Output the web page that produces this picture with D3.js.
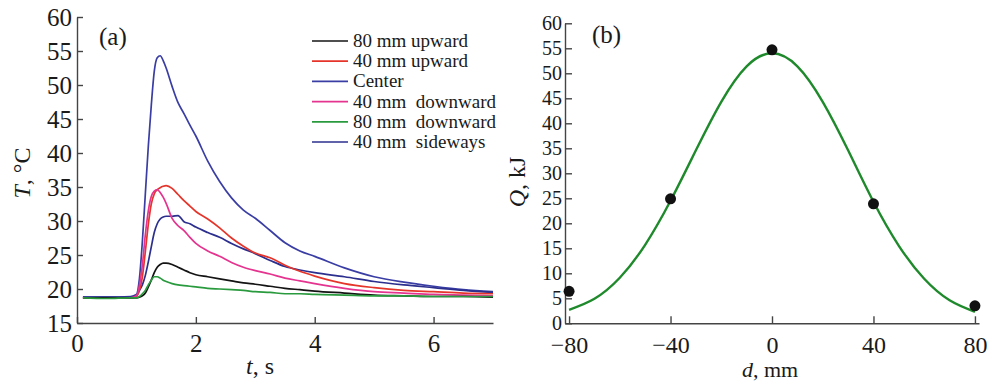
<!DOCTYPE html>
<html>
<head>
<meta charset="UTF-8">
<title>T(t) and Q(d)</title>
<style>
  body { margin: 0; background: #fff; }
  svg { display: block; }
</style>
</head>
<body>
<script src="https://d3js.org/d3.v7.min.js"></script>
<script>
// ---- (a) temperature vs time ----
var times = [0.1, 0.5, 0.9, 1.0, 1.05, 1.1, 1.15, 1.2, 1.25, 1.3, 1.35, 1.4, 1.45, 1.5, 1.6, 1.7, 1.8, 1.9, 2.0,
  2.2, 2.4, 2.6, 2.8, 3.0, 3.25, 3.5, 3.75, 4.0, 4.5, 5.0, 5.5, 6.0, 6.5, 7.0]

var upward80 = [18.7, 18.7, 18.7, 18.7, 18.8, 19.0, 19.4, 20.3, 21.3, 22.4, 23.2, 23.6, 23.8, 23.8, 23.6, 23.2, 22.8, 22.4, 22.1,
  21.8, 21.5, 21.2, 20.9, 20.7, 20.4, 20.1, 19.9, 19.7, 19.4, 19.1, 19.0, 18.9, 18.9, 18.8]
var upward40 = [18.7, 18.7, 18.7, 18.9, 19.8, 21.8, 25.5, 29.5, 32.5, 34.0, 34.6, 34.9, 35.1, 35.2, 34.8, 33.9, 33.0, 32.2, 31.4,
  30.3, 29.0, 27.5, 26.3, 25.3, 24.6, 23.5, 22.6, 21.9, 20.8, 20.2, 19.8, 19.6, 19.4, 19.3]
var center = [18.8, 18.8, 18.9, 19.2, 21.5, 27.0, 34.0, 41.0, 47.0, 52.0, 54.0, 54.3, 53.6, 52.5, 49.8, 47.4, 45.8, 44.1, 42.5,
  38.8, 35.8, 33.4, 31.6, 30.4, 28.6, 26.8, 25.6, 24.8, 23.1, 21.8, 21.0, 20.4, 19.9, 19.6]
var downward40 = [18.7, 18.7, 18.7, 19.0, 20.5, 23.5, 28.0, 31.5, 33.6, 34.4, 34.6, 34.2, 33.5, 32.6, 30.4, 29.3, 28.6, 27.6, 26.7,
  25.6, 24.8, 23.9, 23.2, 22.7, 22.2, 21.6, 21.2, 20.8, 20.1, 19.6, 19.4, 19.2, 19.1, 19.0]
var downward80 = [18.7, 18.6, 18.7, 18.7, 18.9, 19.3, 19.8, 20.6, 21.3, 21.8, 21.8, 21.6, 21.3, 21.1, 20.8, 20.6, 20.5, 20.4, 20.3,
  20.1, 20.0, 19.9, 19.8, 19.6, 19.5, 19.3, 19.3, 19.2, 19.1, 19.0, 19.0, 18.9, 18.9, 18.9]
var sideways40 = [18.8, 18.8, 18.8, 19.0, 19.8, 20.6, 22.0, 24.0, 26.2, 28.3, 29.6, 30.3, 30.6, 30.7, 30.7, 30.8, 29.9, 29.6, 29.1,
  28.3, 27.6, 26.7, 25.9, 25.2, 24.2, 23.3, 22.8, 22.4, 21.8, 21.1, 20.6, 20.2, 19.8, 19.5]

var seriesNames = ["80 mm upward", "40 mm upward", "Center", "40 mm  downward", "80 mm  downward", "40 mm  sideways"]
var seriesColors = ["#141414", "#e5352a", "#3a3ea4", "#e4348f", "#2a9a3e", "#2c2f8e"]
var seriesValues = [upward80, upward40, center, downward40, downward80, sideways40]

var tTicks = [0, 2, 4, 6]
var TTicks = [15, 20, 25, 30, 35, 40, 45, 50, 55, 60]

// ---- (b) heat vs distance ----
var dPoints = [-80, -40, 0, 40, 80]
var qPoints = [6.4, 24.9, 54.7, 23.9, 3.5]
var dCurve = [-80, -70, -60, -50, -40, -30, -20, -10, 0, 10, 20, 30, 40, 50, 60, 70, 80]
var qCurve = [2.7, 4.9, 9.1, 15.7, 24.5, 34.6, 44.3, 51.4, 54.0, 51.4, 44.3, 34.6, 24.3, 15.5, 8.9, 4.6, 2.3]
var dTicks = [-80, -40, 0, 40, 80]
var qTicks = [0, 5, 10, 15, 20, 25, 30, 35, 40, 45, 50, 55, 60]

var width = 989
var height = 381
var serif = "'Liberation Serif', 'DejaVu Serif', serif"
var axisColor = "#444"

var svg = d3.select("body").append("svg")
  .attr("width", width)
  .attr("height", height)
  .style("background", "#fff")

function minus(v) {
  return v < 0 ? "\u2212" + Math.abs(v) : String(v)
}

function styleAxis(g, size) {
  g.attr("font-family", serif).attr("font-size", size)
  g.select(".domain").attr("stroke", axisColor).attr("stroke-width", 1.4)
  g.selectAll(".tick line").attr("stroke", axisColor).attr("stroke-width", 1.4)
  g.selectAll(".tick text").attr("fill", "#1a1a1a")
}

// ================= panel (a) =================
var xA = d3.scaleLinear().domain([0, 7]).range([77, 493])
var yA = d3.scaleLinear().domain([15, 60]).range([323, 17])

var gxA = svg.append("g").attr("transform", "translate(0," + yA(15) + ")")
  .call(d3.axisBottom(xA).tickValues(tTicks).tickFormat(d3.format("d")).tickSize(-6).tickSizeOuter(0).tickPadding(11))
styleAxis(gxA, 25)

var gyA = svg.append("g").attr("transform", "translate(" + xA(0) + ",0)")
  .call(d3.axisLeft(yA).tickValues(TTicks).tickSize(-6).tickSizeOuter(0).tickPadding(5))
styleAxis(gyA, 25)

var lineA = d3.line()
  .x(function(d) { return xA(d[0]) })
  .y(function(d) { return yA(d[1]) })
  .curve(d3.curveMonotoneX)

// draw the tall curves first so the low ones stay visible
var drawOrder = [2, 5, 1, 3, 0, 4]
drawOrder.forEach(function(i) {
  var pts = times.map(function(t, k) { return [t, seriesValues[i][k]] })
  svg.append("path")
    .attr("d", lineA(pts))
    .attr("fill", "none")
    .attr("stroke", seriesColors[i])
    .attr("stroke-width", 1.7)
})

// legend
var legend = svg.append("g")
seriesNames.forEach(function(name, i) {
  var ly = 41 + i * 20.2
  legend.append("line")
    .attr("x1", 312).attr("x2", 348)
    .attr("y1", ly).attr("y2", ly)
    .attr("stroke", seriesColors[i])
    .attr("stroke-width", 1.7)
  legend.append("text")
    .attr("x", 353).attr("y", ly + 6)
    .attr("font-family", serif).attr("font-size", 19)
    .attr("fill", "#1a1a1a")
    .style("white-space", "pre")
    .text(name)
})

svg.append("text").attr("x", 99).attr("y", 45)
  .attr("font-family", serif).attr("font-size", 25).attr("fill", "#1a1a1a")
  .text("(a)")

// axis titles
var tTitle = svg.append("text").attr("x", 260).attr("y", 374)
  .attr("text-anchor", "middle").attr("font-family", serif).attr("font-size", 24).attr("fill", "#1a1a1a")
tTitle.append("tspan").attr("font-style", "italic").text("t")
tTitle.append("tspan").text(", s")

var TTitle = svg.append("text")
  .attr("transform", "translate(30,173) rotate(-90)")
  .attr("text-anchor", "middle").attr("font-family", serif).attr("font-size", 24).attr("fill", "#1a1a1a")
TTitle.append("tspan").attr("font-style", "italic").text("T")
TTitle.append("tspan").text(", \u00b0C")

// ================= panel (b) =================
var xB = d3.scaleLinear().domain([-81.6, 81.6]).range([565, 979])
var yB = d3.scaleLinear().domain([0, 60]).range([323.3, 23.3])

var gxB = svg.append("g").attr("transform", "translate(0," + yB(0) + ")")
  .call(d3.axisBottom(xB).tickValues(dTicks).tickFormat(minus).tickSize(-7).tickSizeOuter(0).tickPadding(13))
styleAxis(gxB, 24)

var gyB = svg.append("g").attr("transform", "translate(" + xB(-81.6) + ",0)")
  .call(d3.axisLeft(yB).tickValues(qTicks).tickSize(-7).tickSizeOuter(0).tickPadding(3))
styleAxis(gyB, 20)

var lineB = d3.line()
  .x(function(d) { return xB(d[0]) })
  .y(function(d) { return yB(d[1]) })
  .curve(d3.curveNatural)

svg.append("path")
  .attr("d", lineB(dCurve.map(function(d, k) { return [d, qCurve[k]] })))
  .attr("fill", "none")
  .attr("stroke", "#1f8a2c")
  .attr("stroke-width", 2.4)

svg.selectAll("circle.pt")
  .data(dPoints)
  .enter()
  .append("circle")
  .attr("class", "pt")
  .attr("cx", function(d) { return xB(d) })
  .attr("cy", function(d, i) { return yB(qPoints[i]) })
  .attr("r", 5.5)
  .attr("fill", "#111")

svg.append("text").attr("x", 592).attr("y", 43)
  .attr("font-family", serif).attr("font-size", 25).attr("fill", "#1a1a1a")
  .text("(b)")

var dTitle = svg.append("text").attr("x", 770).attr("y", 376.5)
  .attr("text-anchor", "middle").attr("font-family", serif).attr("font-size", 22).attr("fill", "#1a1a1a")
dTitle.append("tspan").attr("font-style", "italic").text("d")
dTitle.append("tspan").text(", mm")

var QTitle = svg.append("text")
  .attr("transform", "translate(525,182) rotate(-90)")
  .attr("text-anchor", "middle").attr("font-family", serif).attr("font-size", 24).attr("fill", "#1a1a1a")
QTitle.append("tspan").attr("font-style", "italic").text("Q")
QTitle.append("tspan").text(", kJ")
</script>
</body>
</html>
